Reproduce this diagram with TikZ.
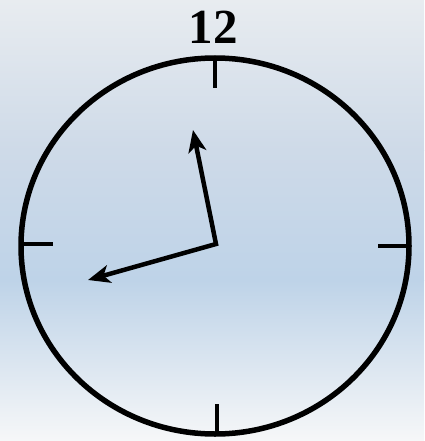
\documentclass[tikz,border=0pt]{standalone}
\usepackage{fontspec}
\setmainfont{Liberation Serif}
\usetikzlibrary{arrows.meta}
\definecolor{skytop}{RGB}{232,236,240}
\definecolor{skyup}{RGB}{206,218,232}
\definecolor{skymid}{RGB}{190,211,232}
\definecolor{skybot}{RGB}{246,247,248}
\tikzset{
  rim/.style={line width=5.5pt, draw=black},
  tick/.style={line width=4pt, draw=black},
  hands/.style={line width=4.5pt, draw=black, line join=miter,
    {Stealth[length=22pt,width=18pt,inset=6pt]}-{Stealth[length=22pt,width=18pt,inset=6pt]}},
  numeral/.style={font=\fontsize{49}{49}\selectfont\bfseries, inner sep=0pt}
}
\begin{document}
\begin{tikzpicture}[x=1pt,y=-1pt]
\useasboundingbox (0,0) rectangle (424,441);
\shade[top color=skytop, bottom color=skyup] (0,0) rectangle (424,150);
\shade[top color=skyup, bottom color=skymid] (0,150) rectangle (424,280);
\shade[top color=skymid, bottom color=skybot] (0,280) rectangle (424,441);
\draw[rim] (215,246) ellipse [x radius=194, y radius=188];
\coordinate (c) at (216,244);
\coordinate (t12a) at (215,58); \coordinate (t12b) at (215,88);
\coordinate (t9a) at (21,244); \coordinate (t9b) at (53,244);
\coordinate (t3a) at (378,246); \coordinate (t3b) at (409,246);
\coordinate (t6a) at (217,404); \coordinate (t6b) at (217,434);
\draw[tick] (t12a) -- (t12b);
\draw[tick] (t9a) -- (t9b);
\draw[tick] (t3a) -- (t3b);
\draw[tick] (t6a) -- (t6b);
\coordinate (minute) at (193,130);
\coordinate (hour) at (88,280);
\draw[hands] (minute) -- (c) -- (hour);
\node[numeral] (twelve) at (213,27) {12};
\end{tikzpicture}
\end{document}
